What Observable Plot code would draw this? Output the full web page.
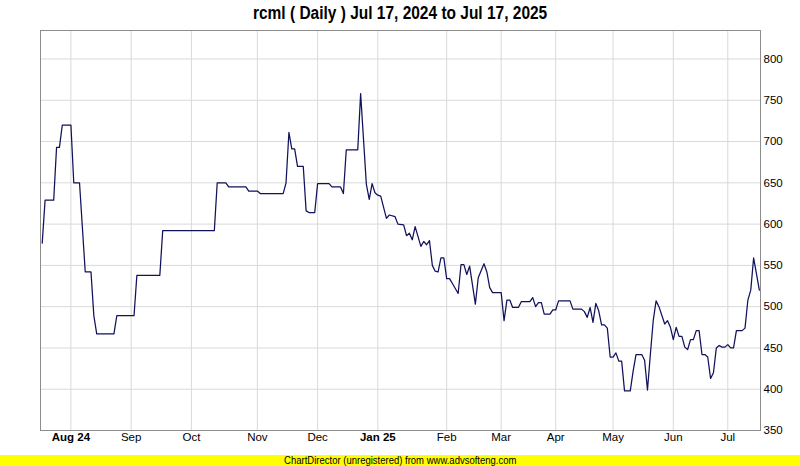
<!DOCTYPE html>
<html>
<head>
<meta charset="utf-8">
<script src="https://cdn.jsdelivr.net/npm/d3@7"></script>
<script src="https://cdn.jsdelivr.net/npm/@observablehq/plot@0.6"></script>
<style>
  html, body { margin: 0; padding: 0; background: #ffffff; }
  #wrap { width: 800px; height: 466px; overflow: hidden; position: relative; }
  #title { height: 25px; line-height: 26px; text-align: center; font-family: "Liberation Sans", Arial, sans-serif; font-weight: bold; font-size: 18px; color: #000; }
  #title span { display: inline-block; transform: scaleX(0.86); transform-origin: center; white-space: nowrap; }
  #chart svg { display: block; }
  #banner { position: absolute; left: 0; top: 455px; width: 800px; height: 11px; background: #ffff00; text-align: center; font-family: "Liberation Sans", Arial, sans-serif; font-size: 10px; line-height: 11px; color: #000; }
  #banner span { display: inline-block; transform: scaleX(0.95); transform-origin: center; white-space: nowrap; }
</style>
</head>
<body>
<div id="wrap">
  <div id="title"><span>rcml ( Daily ) Jul 17, 2024 to Jul 17, 2025</span></div>
  <div id="chart"></div>
  <div id="banner"><span>ChartDirector (unregistered) from www.advsofteng.com</span></div>
</div>
<script>
// Trading-session index (0 = Jul 17, 2024 ... 250 = Jul 17, 2025) at each turning point of the line
const sessions = [0, 1, 4, 5, 6, 7, 10, 11, 13, 15, 17, 18, 19, 25, 26, 32, 33, 41, 42, 60,
  61, 64, 65, 71, 72, 75, 76, 84, 85, 86, 87, 88, 89, 91, 92, 93, 95, 96, 100, 101,
  104, 105, 106, 110, 111, 113, 114, 115, 116, 117, 118, 120, 121, 123, 124, 126, 127, 128, 129, 130,
  132, 133, 134, 135, 136, 137, 138, 139, 140, 141, 142, 143, 145, 146, 147, 148, 149, 151, 152, 154,
  155, 156, 157, 160, 161, 162, 163, 164, 166, 167, 170, 171, 172, 173, 174, 175, 177, 178, 179, 180,
  184, 185, 188, 189, 190, 191, 192, 193, 194, 195, 196, 197, 198, 199, 200, 201, 202, 203, 205, 206,
  207, 209, 210, 211, 212, 213, 214, 215, 217, 218, 219, 220, 221, 222, 223, 224, 225, 226, 227, 228,
  229, 230, 231, 232, 233, 234, 235, 236, 237, 238, 239, 240, 241, 242, 244, 245, 246, 247, 248, 250];
// Daily close at those sessions
const closes = [577, 629, 629, 693, 693, 720, 720, 650, 650, 542, 542, 489, 467, 467, 489, 489, 538, 538, 592, 592,
  650, 650, 645, 645, 640, 640, 637, 637, 650, 711, 691, 691, 670, 670, 616, 614, 614, 649, 649, 645,
  645, 637, 690, 690, 758, 648, 630, 649, 638, 635, 634, 607, 611, 609, 600, 599, 586, 589, 581, 597,
  573, 579, 575, 580, 550, 543, 542, 559, 559, 534, 534, 528, 516, 551, 551, 539, 549, 503, 535, 552,
  542, 523, 517, 517, 483, 508, 508, 499, 499, 506, 506, 511, 500, 505, 505, 491, 491, 496, 496, 507,
  507, 497, 497, 494, 487, 499, 481, 504, 495, 478, 478, 474, 439, 439, 444, 434, 434, 398, 398, 422,
  442, 442, 435, 399, 442, 483, 507, 500, 479, 483, 475, 460, 475, 464, 464, 451, 448, 460, 460, 471,
  471, 442, 442, 439, 413, 420, 450, 453, 451, 451, 454, 450, 450, 471, 471, 474, 508, 520, 559, 520];

// Month gridlines (session index of first session shown in each month) and their labels
const monthTicks = [10, 31, 52, 75, 96, 117, 141, 160, 179, 199, 220, 239];
const monthLabels = ["Aug 24", "Sep", "Oct", "Nov", "Dec", "Jan 25", "Feb", "Mar", "Apr", "May", "Jun", "Jul"];
const priceTicks = [350, 400, 450, 500, 550, 600, 650, 700, 750, 800];

const data = sessions.map((s, i) => ({s, v: closes[i]}));
const labels = monthTicks.map((t, i) => ({t, label: monthLabels[i], year: /\d/.test(monthLabels[i])}));

const chart = Plot.plot({
  width: 800,
  height: 430,
  marginTop: 5,
  marginBottom: 25,
  marginLeft: 40,
  marginRight: 40,
  style: {background: "#ffffff", fontFamily: "'Liberation Sans', Arial, sans-serif", fontSize: "11.5px", color: "#000"},
  x: {domain: [-0.6, 250.4], axis: null},
  y: {domain: [350, 834.5], ticks: priceTicks, axis: "right", tickSize: 0, tickPadding: 3, label: null, tickFormat: d => String(d)},
  marks: [
    Plot.ruleX(monthTicks, {x: d => d, stroke: "#d9d9d9", strokeWidth: 1}),
    Plot.ruleY(priceTicks, {y: d => d, stroke: "#d9d9d9", strokeWidth: 1}),
    Plot.frame({stroke: "#8c8c8c", strokeWidth: 1}),
    Plot.line(data, {x: "s", y: "v", stroke: "#11115c", strokeWidth: 1.25}),
    Plot.text(labels.filter(d => !d.year), {x: "t", text: "label", frameAnchor: "bottom", dy: 10, fontSize: 11.5, fill: "#000"}),
    Plot.text(labels.filter(d => d.year), {x: "t", text: "label", frameAnchor: "bottom", dy: 10, fontSize: 11.5, fontWeight: "bold", fill: "#000"})
  ]
});
document.getElementById("chart").appendChild(chart);
</script>
</body>
</html>
